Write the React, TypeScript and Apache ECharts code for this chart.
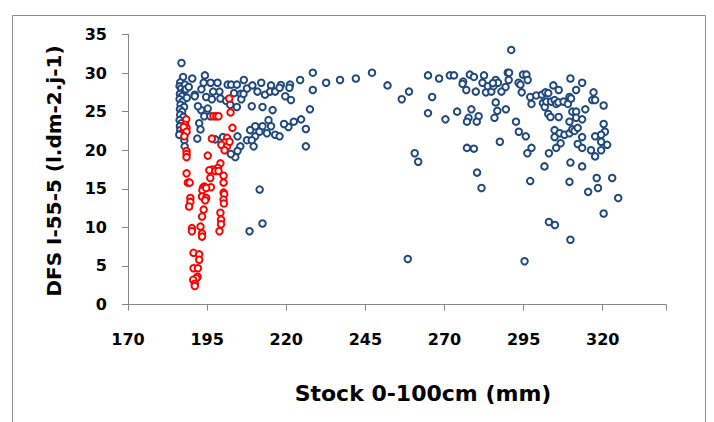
import React, { useEffect, useRef } from "react";
import * as echarts from "echarts";

const xTicks = [170, 195, 220, 245, 270, 295, 320];
const yTicks = [0, 5, 10, 15, 20, 25, 30, 35];
const xTitle = "Stock 0-100cm (mm)";
const yTitle = "DFS I-55-5 (l.dm-2.j-1)";

// blue series (stock, DFSI)
const bluePoints: [number, number][] = [
  [186.9, 31.3], [187.4, 29.5], [186.5, 28.8], [186.3, 28.3], [186.8, 28.0], [187.6, 27.6], [186.4, 27.3],
  [187.0, 27.0], [186.3, 26.6], [187.2, 26.3], [186.6, 25.9], [187.7, 25.6], [186.4, 25.3], [187.1, 25.0],
  [186.5, 24.6], [187.5, 24.3], [186.3, 23.9], [186.9, 23.5], [186.4, 23.1], [187.3, 22.8], [186.5, 22.6],
  [187.0, 22.2], [187.8, 21.3], [187.9, 20.5], [186.2, 22.0], [188.0, 28.5], [188.3, 27.9], [188.6, 26.8],
  [190.3, 29.3], [194.3, 29.7], [193.9, 28.75], [196.1, 28.75], [198.3, 28.75], [201.5, 28.5], [202.6, 28.5],
  [204.4, 28.5], [206.6, 29.1], [207.6, 28.0], [205.6, 27.3], [203.5, 27.4], [198.9, 27.6], [196.9, 27.6],
  [193.2, 27.9], [191.1, 27.2], [191.1, 27.0], [189.2, 28.2], [194.7, 26.9], [196.5, 26.6], [199.2, 26.7],
  [201.0, 26.4], [202.3, 25.9], [204.4, 25.6], [205.8, 26.6], [206.5, 27.3], [207.6, 21.3], [205.5, 20.5],
  [204.6, 19.9], [203.9, 19.1], [202.5, 19.5], [204.6, 21.8], [200.0, 21.7], [197.6, 21.4], [194.1, 24.4],
  [196.0, 24.4], [193.1, 25.2], [195.2, 25.4], [192.5, 23.5], [192.9, 22.7], [191.9, 21.5], [192.1, 25.7],
  [209.3, 28.4], [212.1, 28.75], [215.2, 28.4], [218.3, 28.45], [221.2, 28.5], [210.9, 27.6], [213.3, 27.2],
  [214.9, 27.6], [216.5, 27.6], [217.9, 28.1], [221.0, 28.1], [224.4, 29.1], [228.4, 30.05], [228.4, 27.8],
  [232.6, 28.75], [237.0, 29.1], [242.0, 29.3], [247.1, 30.05], [252.0, 28.4], [258.8, 27.6], [256.5, 26.6],
  [264.8, 29.7], [268.3, 29.3], [271.7, 29.7], [266.1, 26.9], [264.8, 24.8], [270.3, 24.0], [219.7, 27.0],
  [221.5, 26.5], [209.1, 25.7], [212.5, 25.6], [215.7, 25.2], [227.5, 25.3], [224.7, 24.0], [222.4, 23.7],
  [220.7, 23.0], [219.3, 23.4], [214.4, 23.9], [215.2, 23.1], [212.5, 23.1], [210.2, 23.1], [211.5, 22.4],
  [208.6, 22.6], [213.9, 22.2], [216.5, 22.0], [217.9, 21.8], [210.2, 21.8], [209.1, 21.3], [209.7, 20.5],
  [226.2, 22.75], [226.2, 20.5], [260.6, 19.6], [261.7, 18.5], [211.6, 14.9], [212.5, 10.5], [208.4, 9.5],
  [258.4, 5.9],
  [273.0, 29.7], [278.0, 29.8], [279.3, 29.5], [282.5, 29.7], [275.9, 28.9], [275.7, 28.6], [276.9, 27.8],
  [279.9, 27.6], [282.0, 28.75], [283.1, 27.5], [283.7, 28.3], [284.8, 27.6], [285.5, 28.3], [286.2, 29.1],
  [286.9, 28.75], [285.3, 28.7], [290.0, 30.05], [290.4, 30.05], [290.3, 29.1], [289.3, 28.2], [288.0, 27.6],
  [291.1, 33.0], [294.8, 29.8], [295.9, 29.8], [296.3, 29.1], [293.4, 28.75], [294.0, 28.5], [294.4, 27.5],
  [297.1, 26.9], [299.0, 27.1], [297.5, 26.0], [300.8, 27.2], [301.9, 27.5], [302.8, 27.4], [301.1, 26.1],
  [301.7, 25.6], [302.2, 26.3], [303.7, 26.3], [304.8, 26.5], [305.3, 26.0], [306.0, 26.2], [307.6, 26.3],
  [309.0, 26.0], [309.5, 26.9], [310.0, 26.7], [304.4, 28.4], [306.1, 27.8], [309.8, 29.3], [313.5, 28.75],
  [311.6, 27.8], [317.1, 27.5], [316.7, 26.5], [317.6, 26.5], [320.3, 25.8], [310.4, 25.0], [311.6, 25.0],
  [314.5, 25.3], [302.8, 24.7], [303.5, 24.3], [306.1, 24.3], [309.5, 23.7], [311.6, 24.2], [313.5, 24.0],
  [304.8, 22.6], [306.4, 22.2], [307.9, 22.0], [309.5, 22.2], [310.4, 22.7], [311.1, 22.5], [312.1, 22.9],
  [304.8, 21.7], [306.7, 20.9], [305.3, 20.3], [313.5, 21.7], [312.1, 20.8], [313.5, 20.3], [316.3, 20.0],
  [317.6, 19.2], [319.5, 20.0], [319.5, 21.1], [320.7, 22.4], [320.3, 23.4], [317.6, 21.8], [321.4, 20.7],
  [319.5, 22.0], [303.0, 19.6], [297.5, 20.3], [296.2, 19.6], [292.6, 23.7], [293.5, 22.4], [295.7, 21.8],
  [286.2, 26.2], [286.7, 25.1], [289.4, 25.3], [285.8, 24.2], [287.5, 21.1], [278.5, 25.3], [280.8, 24.4],
  [280.2, 23.7], [277.6, 24.2], [277.1, 23.7], [274.0, 25.0], [277.1, 20.3], [279.3, 20.2], [280.3, 17.1],
  [301.6, 17.9], [309.8, 18.4], [313.5, 17.9], [281.7, 15.1], [297.1, 16.0], [309.5, 15.9], [318.1, 16.4],
  [323.0, 16.4], [318.5, 15.1], [315.4, 14.6], [324.9, 13.8], [320.3, 11.8], [303.0, 10.7], [304.9, 10.3],
  [309.8, 8.4], [295.3, 5.6],
];

// red series (stock, DFSI)
const redPoints: [number, number][] = [
  [202.0, 26.7], [202.4, 24.9], [197.0, 24.4], [197.9, 24.4], [198.6, 24.4], [188.4, 24.0], [188.0, 23.3],
  [188.5, 22.9], [187.8, 22.6], [187.6, 23.0], [188.5, 22.4], [187.8, 21.8], [203.0, 22.9], [196.5, 21.5],
  [201.3, 21.6], [200.7, 21.0], [199.5, 20.7], [201.3, 20.5], [202.1, 21.1], [200.5, 20.0], [188.5, 19.9],
  [188.5, 19.5], [188.5, 19.1], [195.2, 19.3], [199.2, 18.3], [198.4, 17.7], [196.7, 17.5], [195.7, 17.4],
  [197.6, 17.3], [188.5, 17.0], [196.0, 16.4], [200.2, 16.7], [198.6, 17.3], [200.2, 15.8], [188.9, 15.8],
  [189.5, 15.8], [196.2, 15.2], [194.1, 15.3], [193.7, 15.1], [193.5, 14.8], [194.7, 15.1], [200.2, 14.5],
  [200.4, 14.3], [200.2, 13.6], [200.3, 13.1], [193.4, 14.0], [194.7, 13.8], [194.4, 13.5], [189.7, 13.8],
  [189.7, 13.3], [189.3, 12.7], [193.9, 12.3], [193.4, 11.4], [199.2, 11.9], [199.4, 11.0], [199.4, 10.4],
  [198.9, 9.5], [192.9, 10.1], [193.4, 9.2], [193.4, 8.8], [190.2, 9.9], [190.2, 9.5], [190.7, 6.7],
  [192.5, 6.5], [192.5, 5.8], [190.7, 4.7], [192.1, 4.7], [192.0, 3.6], [191.6, 3.4], [190.6, 3.2],
  [191.1, 2.7], [191.1, 2.4],
];

const FONT = "'DejaVu Sans', sans-serif";
const BLUE = "#1F497D";
const RED = "#FF0000";

export default function App() {
  const ref = useRef<HTMLDivElement>(null);
  useEffect(() => {
    if (!ref.current) return;
    const chart = echarts.init(ref.current, null, { renderer: "svg" });
    chart.setOption({
      animation: false,
      backgroundColor: "#ffffff",
      graphic: [
        {
          type: "rect",
          shape: { x: 12.5, y: 15.5, width: 693, height: 420 },
          style: { fill: "none", stroke: "#8c8c8c", lineWidth: 1 },
          silent: true,
        },
        {
          type: "text",
          x: 423,
          y: 393,
          style: {
            text: xTitle,
            fontFamily: FONT,
            fontWeight: "bold",
            fontSize: 22,
            fill: "#000",
            align: "center",
            verticalAlign: "middle",
          },
          silent: true,
        },
        {
          type: "text",
          x: 54,
          y: 171,
          rotation: Math.PI / 2,
          style: {
            text: yTitle,
            fontFamily: FONT,
            fontWeight: "bold",
            fontSize: 20,
            fill: "#000",
            align: "center",
            verticalAlign: "middle",
          },
          silent: true,
        },
      ],
      grid: { left: 128, right: 48, top: 34.5, bottom: 117.5, containLabel: false },
      xAxis: {
        type: "value",
        min: 170,
        max: 340,
        interval: 25,
        axisLine: { show: true, onZero: false, lineStyle: { color: "#868686", width: 1 } },
        axisTick: { show: true, inside: false, length: 6, lineStyle: { color: "#868686" } },
        axisLabel: {
          fontFamily: FONT,
          fontWeight: "bold",
          fontSize: 16,
          color: "#000",
          margin: 27,
          formatter: (v: number) => (xTicks.includes(v) ? String(v) : ""),
        },
        splitLine: { show: false },
      },
      yAxis: {
        type: "value",
        min: 0,
        max: 35,
        interval: 5,
        axisLine: { show: true, lineStyle: { color: "#868686", width: 1 } },
        axisTick: { show: true, inside: false, length: 6, lineStyle: { color: "#868686" } },
        axisLabel: {
          fontFamily: FONT,
          fontWeight: "bold",
          fontSize: 16,
          color: "#000",
          margin: 21,
          formatter: (v: number) => (yTicks.includes(v) ? String(v) : ""),
        },
        splitLine: { show: false },
      },
      series: [
        {
          type: "scatter",
          data: bluePoints,
          symbol: "emptyCircle",
          symbolSize: 6.5,
          itemStyle: { color: BLUE, borderColor: BLUE, borderWidth: 1.6, opacity: 1 },
        },
        {
          type: "scatter",
          data: redPoints,
          symbol: "emptyCircle",
          symbolSize: 6.5,
          itemStyle: { color: RED, borderColor: RED, borderWidth: 1.6, opacity: 1 },
        },
      ],
    });
    return () => chart.dispose();
  }, []);
  return (
    <div
      ref={ref}
      style={{ position: "fixed", left: 0, top: 0, width: 714, height: 422 }}
    />
  );
}
